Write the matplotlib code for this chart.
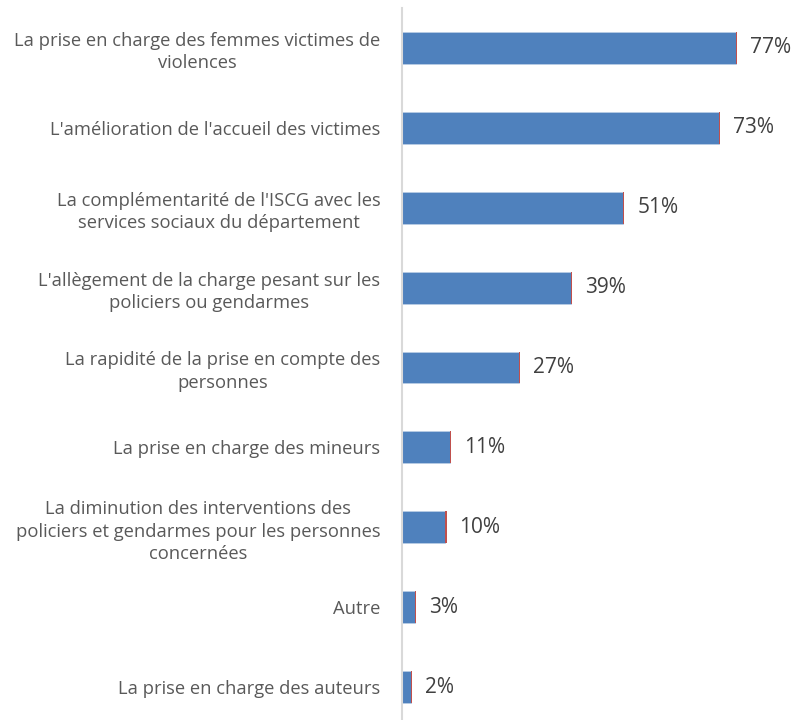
import matplotlib.pyplot as plt

labels = [
    "La prise en charge des femmes victimes de\nviolences",
    "L'amélioration de l'accueil des victimes",
    "La complémentarité de l'ISCG avec les\nservices sociaux du département",
    "L'allègement de la charge pesant sur les\npoliciers ou gendarmes",
    "La rapidité de la prise en compte des\npersonnes",
    "La prise en charge des mineurs",
    "La diminution des interventions des\npoliciers et gendarmes pour les personnes\nconcernées",
    "Autre",
    "La prise en charge des auteurs",
]
values = [77, 73, 51, 39, 27, 11, 10, 3, 2]

plt.rcParams['font.family'] = ['Open Sans', 'DejaVu Sans']

fig = plt.figure(figsize=(7.95, 7.2), dpi=100)
ax = fig.add_axes([0.5057, -0.0097, 0.4913, 0.9986])

pos = range(len(values))
ax.barh(pos, values, height=0.4, color='#4f81bd', edgecolor='#b9cde5', linewidth=0.6)
# thin red cap at the end of each bar
ax.barh(pos, [0.25] * len(values), left=values, height=0.4, color='#c0504d', linewidth=0)

for i, v in enumerate(values):
    ax.text(v + 3.2, i, f"{v}%", va='center', ha='left', fontsize=15, color='#404040')

ax.set_yticks(list(pos))
ax.set_yticklabels(labels, fontsize=13.2, color='#595959', multialignment='center',
                   linespacing=1.32)
ax.tick_params(axis='y', length=0, pad=15.5)
ax.set_xticks([])
ax.set_xlim(0, 90)
ax.set_ylim(len(values) - 0.5, -0.5)

for s in ['top', 'right', 'bottom']:
    ax.spines[s].set_visible(False)
ax.spines['left'].set_color('#d9d9d9')
ax.spines['left'].set_linewidth(1.5)

fig.savefig('out.png', dpi=100)
